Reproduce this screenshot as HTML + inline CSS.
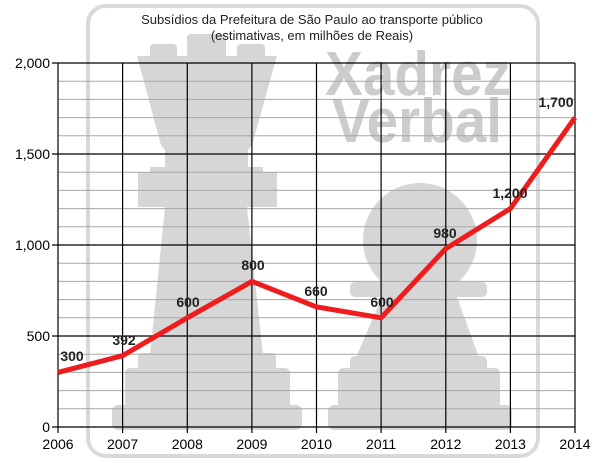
<!DOCTYPE html>
<html><head><style>body{margin:0;background:#fff}svg{display:block}</style></head><body>
<svg width="600" height="463" xmlns="http://www.w3.org/2000/svg" font-family="Liberation Sans, sans-serif">
<rect x="88" y="6" width="450" height="450" rx="18" fill="none" stroke="#d9d9d9" stroke-width="4"/>
<g fill="#d6d6d6">
<rect x="150" y="44" width="27" height="20" rx="4"/>
<rect x="187" y="34" width="39" height="30" rx="4"/>
<rect x="237" y="44" width="28" height="20" rx="4"/>
<path d="M137,56H277L252,145L248,150V167H263V172H277V207H247L263,355H150L165,207H138V172H150V167H165V150L161,145Z"/>
<rect x="138" y="353" width="138" height="20" rx="4"/>
<rect x="125" y="368" width="165" height="42" rx="5"/>
<rect x="112" y="405" width="190" height="25" rx="6"/>
<circle cx="420" cy="240" r="57"/>
<rect x="350" y="282" width="137" height="15" rx="5"/>
<path d="M382,297H457L480,360H355Z"/>
<rect x="350" y="356" width="137" height="16" rx="5"/>
<rect x="338" y="368" width="162" height="40" rx="5"/>
<rect x="328" y="405" width="184" height="25" rx="6"/>
</g>
<text x="325" y="95" font-size="62" font-weight="bold" fill="#cccccc" textLength="186" lengthAdjust="spacingAndGlyphs">Xadrez</text>
<text x="332" y="142" font-size="62" font-weight="bold" fill="#cccccc" textLength="170" lengthAdjust="spacingAndGlyphs">Verbal</text>
<g stroke="#a8a8a8" stroke-width="1">
<path d="M58,390.6H575M58,354.2H575M58,317.8H575M58,281.4H575M58,208.6H575M58,172.2H575M58,135.8H575M58,99.4H575M58,81.2H575M58,117.6H575M58,190.4H575M58,226.8H575M58,263.2H575M58,299.6H575M58,372.4H575M58,408.8H575"/>
</g>
<g stroke="#000" stroke-width="1.2">
<path d="M52,63H575M52,154H575M52,245H575M52,336H575M52,427H575"/>
<path d="M58,63V433M122.6,63V433M187.3,63V433M251.9,63V433M316.5,63V433M381.1,63V433M445.8,63V433M510.4,63V433M575,63V433"/>
</g>
<g font-size="14" text-anchor="end" fill="#000">
<text x="50" y="68">2,000</text><text x="50" y="159">1,500</text><text x="50" y="250">1,000</text><text x="50" y="341">500</text><text x="50" y="432">0</text>
</g>
<g font-size="14" text-anchor="middle" fill="#000">
<text x="58" y="449">2006</text><text x="122.6" y="449">2007</text><text x="187.3" y="449">2008</text><text x="251.9" y="449">2009</text><text x="316.5" y="449">2010</text><text x="381.1" y="449">2011</text><text x="445.8" y="449">2012</text><text x="510.4" y="449">2013</text><text x="575" y="449">2014</text>
</g>
<text x="312" y="24" font-size="13" text-anchor="middle" fill="#222">Subsídios da Prefeitura de São Paulo ao transporte público</text>
<text x="312" y="40" font-size="13" text-anchor="middle" fill="#222">(estimativas, em milhões de Reais)</text>
<polyline points="58,372.4 122.6,355.7 187.3,317.8 251.9,281.4 316.5,306.9 381.1,317.8 445.8,248.6 510.4,208.6 575,117.6" fill="none" stroke="#ee1c1c" stroke-width="5" stroke-linejoin="round"/>
<g font-size="14" font-weight="bold" fill="#222" text-anchor="middle">
<text x="72" y="361">300</text><text x="124" y="345">392</text><text x="188" y="307">600</text><text x="253" y="270">800</text><text x="316" y="296">660</text><text x="382" y="307">600</text><text x="445" y="238">980</text><text x="510" y="198">1,200</text><text x="556" y="107">1,700</text>
</g>
</svg>
</body></html>
